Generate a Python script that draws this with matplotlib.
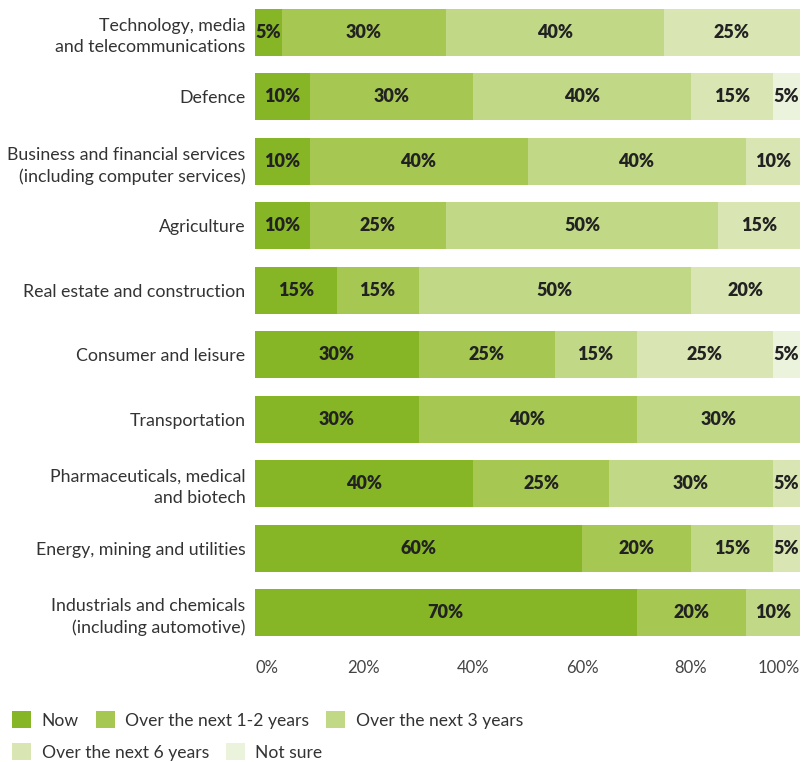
import matplotlib.pyplot as plt
import numpy as np

plt.rcParams['font.family'] = ['Lato', 'DejaVu Sans']

# Categorías (de arriba a abajo)
categorias = [
    'Technology, media\nand telecommunications',
    'Defence',
    'Business and financial services\n(including computer services)',
    'Agriculture',
    'Real estate and construction',
    'Consumer and leisure',
    'Transportation',
    'Pharmaceuticals, medical\nand biotech',
    'Energy, mining and utilities',
    'Industrials and chemicals\n(including automotive)',
]

series = ['Now', 'Over the next 1-2 years', 'Over the next 3 years',
          'Over the next 6 years', 'Not sure']

# Porcentajes por serie
ahora = [5, 10, 10, 10, 15, 30, 30, 40, 60, 70]
anios_1_2 = [30, 30, 40, 25, 15, 25, 40, 25, 20, 20]
anios_3 = [40, 40, 40, 50, 50, 15, 30, 30, 15, 10]
anios_6 = [25, 15, 10, 15, 20, 25, 0, 5, 5, 0]
no_seguro = [0, 5, 0, 0, 0, 5, 0, 0, 0, 0]

ticks = [0, 20, 40, 60, 80, 100]
tick_labels = ['0%', '20%', '40%', '60%', '80%', '100%']

colores = ['#86b526', '#a6c852', '#c1d887', '#d9e6b3', '#ecf3dc']

fig = plt.figure(figsize=(8.01, 7.62), dpi=100)
ax = fig.add_axes([255 / 801, 1 - 636 / 762, 545 / 801, 627 / 762])

y = np.arange(len(categorias))
izquierda = np.zeros(len(categorias))
handles = []
for nombre, valores, color in zip(series, [ahora, anios_1_2, anios_3, anios_6, no_seguro], colores):
    valores = np.array(valores, dtype=float)
    barras = ax.barh(y, valores, left=izquierda, height=0.73, color=color, label=nombre)
    handles.append(barras)
    for yi, li, vi in zip(y, izquierda, valores):
        if vi > 0:
            ax.text(li + vi / 2, yi, f'{int(vi)}%', ha='center', va='center',
                    fontsize=13, fontweight='heavy', color='#222222')
    izquierda += valores

ax.set_xlim(0, 100)
ax.set_ylim(len(categorias) - 1 + 0.365, -0.365)
ax.set_yticks(y)
ax.set_yticklabels(categorias, fontsize=12.8, color='#333333', linespacing=1.4)
ax.set_xticks(ticks)
ax.set_xticklabels(tick_labels, fontsize=12, color='#444444')
ax.get_xticklabels()[0].set_ha('left')
ax.get_xticklabels()[-1].set_ha('right')
ax.tick_params(axis='y', length=0, pad=7)
ax.tick_params(axis='x', length=0, pad=17)
for s in ax.spines.values():
    s.set_visible(False)

# Leyenda en dos filas
estilo = dict(frameon=False, fontsize=12.6, handlelength=1.1, handleheight=1.1,
              handletextpad=0.6, columnspacing=0.95, borderpad=0, borderaxespad=0,
              labelcolor='#333333')
leg1 = fig.legend(handles[:3], series[:3], loc='center left', ncol=3,
                  bbox_to_anchor=(12 / 801, 1 - 720 / 762), **estilo)
leg2 = fig.legend(handles[3:], series[3:], loc='center left', ncol=2,
                  bbox_to_anchor=(12 / 801, 1 - 752 / 762), **estilo)

fig.savefig('out.png', dpi=100)
